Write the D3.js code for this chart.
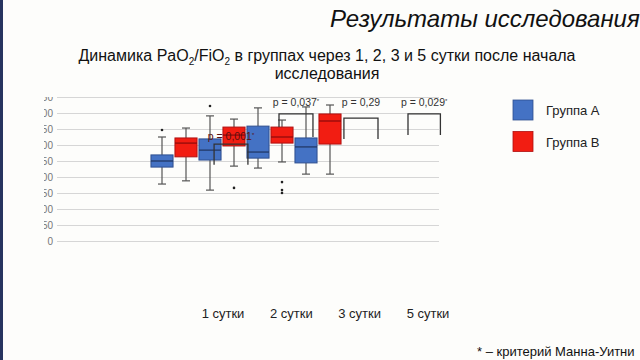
<!DOCTYPE html>
<html>
<head>
<meta charset="utf-8">
<script src="https://cdn.jsdelivr.net/npm/d3@7"></script>
<style>
  html, body { margin: 0; padding: 0; background: #fdfdfb; }
  svg { display: block; font-family: "Liberation Sans", Arial, sans-serif; }
</style>
</head>
<body>
<svg id="chart" width="640" height="360"></svg>
<script>
// ---- data ----
const days = ["1 сутки", "2 сутки", "3 сутки", "5 сутки"];
const groups = ["Группа А", "Группа В"];
const boxGroup = [0, 1, 0, 1, 0, 1, 0, 1];          // group index of each box, in drawing order
const whiskerLow  = [178, 188, 159, 234, 228, 247, 209, 209];
const q1          = [231, 263, 253, 297, 259, 306, 244, 303];
const median      = [250, 306, 284, 331, 278, 325, 294, 375];
const q3          = [269, 322, 319, 356, 359, 356, 322, 397];
const whiskerHigh = [325, 353, 391, 381, 416, 378, 419, 425];
const outliers    = [[347], [], [422], [166], [], [184, 159, 150], [], []];
const yTicks = [0, 50, 100, 150, 200, 250, 300, 350, 400, 450];
const pLabels = ["p = 0,001", "p = 0,037", "p = 0,29", "p = 0,029"];
const pStar   = [true, true, false, true];
const pLabelY = [316, 422, 422, 422];
const bracketStart = [2.17, 4.875, 7.58, 10.25];   // in box-slot units
const bracketEnd   = [3.58, 6.29, 9.0, 11.6];
const bracketTop   = [303, 397, 384, 397];
const legLeftEnd   = [238, 356, 319, 331];
const legRightEnd  = [238, 325, 319, 331];

const fills   = ["#4472c4", "#f21d12"];
const strokes = ["#2f4f8f", "#b01010"];

// ---- layout ----
const svg = d3.select("#chart");
svg.append("rect").attr("width", 640).attr("height", 360).attr("fill", "#fdfdfb");
svg.append("rect").attr("x", 0).attr("y", 0).attr("width", 3).attr("height", 360).attr("fill", "#27345f");

const y = d3.scaleLinear().domain([0, 450]).range([241, 97]);
const slotX = d3.scaleLinear().domain([0, 1]).range([162, 186]); // box centers
const bw = slotX(0.92) - slotX(0);
const dayX = d3.scalePoint().domain(days).range([223, 428]);

// Titles
svg.append("text").attr("x", 330).attr("y", 27)
  .attr("font-size", 24).attr("font-style", "italic").attr("fill", "#111")
  .text("Результаты исследования");

const sub = svg.append("text").attr("x", 327).attr("y", 61)
  .attr("text-anchor", "middle").attr("font-size", 16).attr("fill", "#111");
sub.append("tspan").text("Динамика PaO");
sub.append("tspan").attr("font-size", 10).attr("dy", 4).text("2");
sub.append("tspan").attr("dy", -4).text("/FiO");
sub.append("tspan").attr("font-size", 10).attr("dy", 4).text("2");
sub.append("tspan").attr("dy", -4).text(" в группах через 1, 2, 3 и 5 сутки после начала");
svg.append("text").attr("x", 327).attr("y", 79)
  .attr("text-anchor", "middle").attr("font-size", 16).attr("fill", "#111")
  .text("исследования");

// Clip for the axis (left labels and top label cut in the reference)
svg.append("clipPath").attr("id", "clipAxis")
  .append("rect").attr("x", 44).attr("y", 97).attr("width", 420).attr("height", 160);

const axisG = svg.append("g").attr("clip-path", "url(#clipAxis)");
const yAxis = d3.axisLeft(y).tickValues(yTicks).tickSize(-(439 - 57)).tickPadding(4);
const ag = axisG.append("g").attr("transform", "translate(57,0)").call(yAxis);
ag.select(".domain").remove();
ag.selectAll(".tick line").attr("stroke", "#d6d6d6").attr("stroke-width", 1.2);
ag.selectAll(".tick text").attr("fill", "#777").attr("font-size", 10)
  .attr("font-family", "Liberation Sans, Arial, sans-serif");

// Boxes
const idx = d3.range(boxGroup.length);
const bg = svg.append("g");
idx.forEach(i => {
  const cx = slotX(i);
  const g = bg.append("g");
  g.append("line").attr("x1", cx).attr("x2", cx).attr("y1", y(whiskerHigh[i])).attr("y2", y(q3[i]))
    .attr("stroke", "#555").attr("stroke-width", 1.2);
  g.append("line").attr("x1", cx).attr("x2", cx).attr("y1", y(q1[i])).attr("y2", y(whiskerLow[i]))
    .attr("stroke", "#555").attr("stroke-width", 1.2);
  [whiskerHigh[i], whiskerLow[i]].forEach(v => {
    g.append("line").attr("x1", cx - 4).attr("x2", cx + 4).attr("y1", y(v)).attr("y2", y(v))
      .attr("stroke", "#555").attr("stroke-width", 1.2);
  });
  g.append("rect").attr("x", cx - bw / 2).attr("width", bw)
    .attr("y", y(q3[i])).attr("height", y(q1[i]) - y(q3[i]))
    .attr("fill", fills[boxGroup[i]]).attr("stroke", strokes[boxGroup[i]]).attr("stroke-width", 1);
  g.append("line").attr("x1", cx - bw / 2).attr("x2", cx + bw / 2)
    .attr("y1", y(median[i])).attr("y2", y(median[i]))
    .attr("stroke", boxGroup[i] === 0 ? "#1f3460" : "#8a0a0a").attr("stroke-width", 1.2);
  outliers[i].forEach(v => {
    g.append("circle").attr("cx", cx).attr("cy", y(v)).attr("r", 1.3).attr("fill", "#222");
  });
});

// Brackets and p-values
const brG = svg.append("g");
pLabels.forEach((t, k) => {
  const x1 = slotX(bracketStart[k]), x2 = slotX(bracketEnd[k]);
  brG.append("path")
    .attr("d", `M${x1},${y(legLeftEnd[k])}V${y(bracketTop[k])}H${x2}V${y(legRightEnd[k])}`)
    .attr("fill", "none").attr("stroke", "#333").attr("stroke-width", 1.3);
  const tx = brG.append("text").attr("x", (x1 + x2) / 2).attr("y", y(pLabelY[k]))
    .attr("text-anchor", "middle").attr("font-size", 10.5)
    .attr("fill", k === 0 ? "#5a1010" : "#333");
  tx.append("tspan").text(t);
  if (pStar[k]) tx.append("tspan").attr("font-size", 6).attr("dy", -3).text("*");
});

// Category labels
svg.append("g").selectAll("text").data(days).join("text")
  .attr("x", d => dayX(d)).attr("y", 318)
  .attr("text-anchor", "middle").attr("font-size", 13).attr("fill", "#222")
  .text(d => d);

// Legend
const lg = svg.append("g");
groups.forEach((gname, k) => {
  lg.append("rect").attr("x", 513).attr("y", 100 + k * 31.5).attr("width", 20).attr("height", 20)
    .attr("fill", fills[k]).attr("stroke", strokes[k]).attr("stroke-width", 0.8);
  lg.append("text").attr("x", 546).attr("y", 115 + k * 31.5)
    .attr("font-size", 13).attr("fill", "#222").text(gname);
});

// Footnote
svg.append("text").attr("x", 477).attr("y", 356)
  .attr("font-size", 13).attr("fill", "#111")
  .text("* – критерий Манна-Уитни");
</script>
</body>
</html>
